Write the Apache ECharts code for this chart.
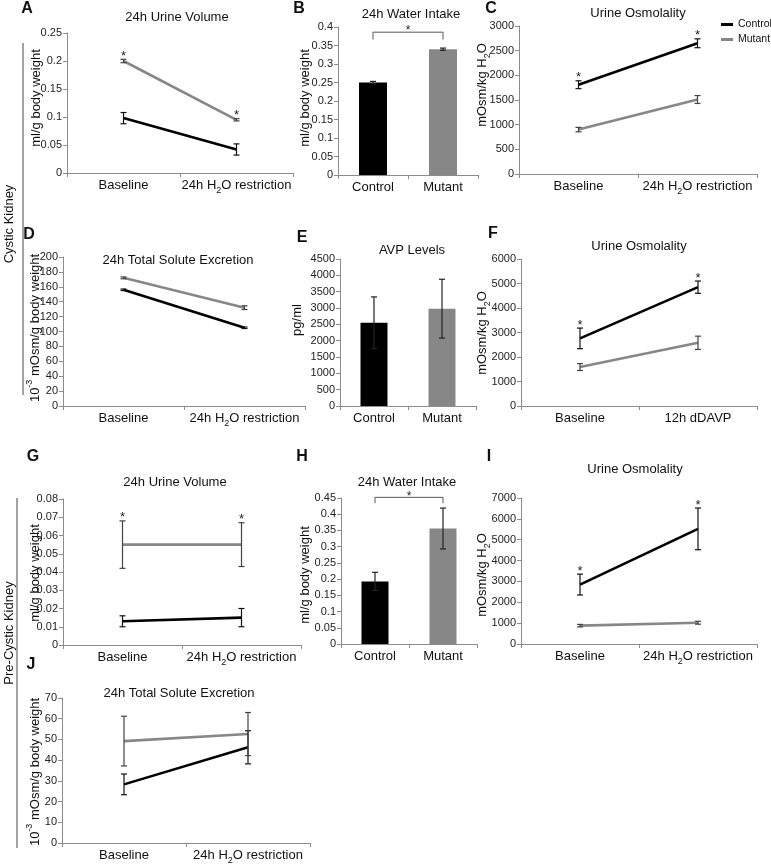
<!DOCTYPE html>
<html><head><meta charset="utf-8">
<script src="https://cdn.jsdelivr.net/npm/echarts@6/dist/echarts.min.js"></script>
<style>html,body{margin:0;padding:0;background:#fff}#c{width:771px;height:865px}</style>
</head><body><div id="c"></div>
<script>
// ---------- categories ----------
const lineCats = ['Baseline', '24h H2O restriction'];
const dDAVPCats = ['Baseline', '12h dDAVP'];
const barCats = ['Control', 'Mutant'];

// ---------- A: 24h Urine Volume (cystic) ----------
const aTicks = [0, 0.05, 0.1, 0.15, 0.2, 0.25];
const aControl = [0.098, 0.042];
const aControlErr = [0.010, 0.010];
const aMutant = [0.200, 0.095];
const aMutantErr = [0.003, 0.002];
const aMutantSig = [1, 1];

// ---------- B: 24h Water Intake (cystic) ----------
const bTicks = [0, 0.05, 0.1, 0.15, 0.2, 0.25, 0.3, 0.35, 0.4];
const bValues = [0.250, 0.340];
const bErr = [0.003, 0.003];
const bBracket = [0.386, 0.366];

// ---------- C: Urine Osmolality (cystic) ----------
const cTicks = [0, 500, 1000, 1500, 2000, 2500, 3000];
const cControl = [1810, 2650];
const cControlErr = [80, 90];
const cControlSig = [1, 1];
const cMutant = [900, 1510];
const cMutantErr = [45, 80];

// ---------- D: 24h Total Solute Excretion (cystic) ----------
const dTicks = [0, 20, 40, 60, 80, 100, 120, 140, 160, 180, 200];
const dControl = [156, 105];
const dControlErr = [1, 1];
const dMutant = [172, 132];
const dMutantErr = [1.2, 2.5];

// ---------- E: AVP Levels ----------
const eTicks = [0, 500, 1000, 1500, 2000, 2500, 3000, 3500, 4000, 4500];
const eValues = [2550, 2980];
const eErr = [790, 900];

// ---------- F: Urine Osmolality (dDAVP) ----------
const fTicks = [0, 1000, 2000, 3000, 4000, 5000, 6000];
const fControl = [2760, 4850];
const fControlErr = [420, 250];
const fControlSig = [1, 1];
const fMutant = [1590, 2580];
const fMutantErr = [140, 270];

// ---------- G: 24h Urine Volume (pre-cystic) ----------
const gTicks = [0, 0.01, 0.02, 0.03, 0.04, 0.05, 0.06, 0.07, 0.08];
const gControl = [0.013, 0.015];
const gControlErr = [0.003, 0.005];
const gMutant = [0.055, 0.055];
const gMutantErr = [0.013, 0.012];
const gMutantSig = [1, 1];

// ---------- H: 24h Water Intake (pre-cystic) ----------
const hTicks = [0, 0.05, 0.1, 0.15, 0.2, 0.25, 0.3, 0.35, 0.4, 0.45];
const hValues = [0.193, 0.356];
const hErr = [0.028, 0.063];
const hBracket = [0.452, 0.434];

// ---------- I: Urine Osmolality (pre-cystic) ----------
const iTicks = [0, 1000, 2000, 3000, 4000, 5000, 6000, 7000];
const iControl = [2850, 5520];
const iControlErr = [500, 1000];
const iControlSig = [1, 1];
const iMutant = [880, 1020];
const iMutantErr = [60, 70];

// ---------- J: 24h Total Solute Excretion (pre-cystic) ----------
const jTicks = [0, 10, 20, 30, 40, 50, 60, 70];
const jControl = [28.3, 46.2];
const jControlErr = [5, 8];
const jMutant = [49.2, 52.6];
const jMutantErr = [12, 10.4];

const none = [0, 0];

// ---------- styling / layout ----------
const FONT = '"Liberation Sans", Arial, Helvetica, sans-serif';
const CTRL = '#000000', MUT = '#878787', ERRC = '#111111', ERRM = '#444444';
const AXIS = '#8c8c8c';

const panels = [
  { grid: {left: 67, top: 33, width: 226, height: 140}, cats: lineCats, ticks: aTicks, kind: 'line',
    c: aControl, ce: aControlErr, cs: none, m: aMutant, me: aMutantErr, ms: aMutantSig },
  { grid: {left: 338, top: 27, width: 140, height: 148}, cats: barCats, ticks: bTicks, kind: 'bar',
    v: bValues, e: bErr, br: bBracket, bw: 28 },
  { grid: {left: 519, top: 26, width: 238, height: 148}, cats: lineCats, ticks: cTicks, kind: 'line',
    c: cControl, ce: cControlErr, cs: cControlSig, m: cMutant, me: cMutantErr, ms: none },
  { grid: {left: 63, top: 257, width: 242, height: 149}, cats: lineCats, ticks: dTicks, kind: 'line',
    c: dControl, ce: dControlErr, cs: none, m: dMutant, me: dMutantErr, ms: none },
  { grid: {left: 340, top: 259, width: 136, height: 147}, cats: barCats, ticks: eTicks, kind: 'bar',
    v: eValues, e: eErr, br: null, bw: 27 },
  { grid: {left: 521, top: 259, width: 236, height: 147}, cats: dDAVPCats, ticks: fTicks, kind: 'line',
    c: fControl, ce: fControlErr, cs: fControlSig, m: fMutant, me: fMutantErr, ms: none },
  { grid: {left: 63, top: 499, width: 238, height: 146}, cats: lineCats, ticks: gTicks, kind: 'line',
    c: gControl, ce: gControlErr, cs: none, m: gMutant, me: gMutantErr, ms: gMutantSig },
  { grid: {left: 341, top: 498, width: 136, height: 146}, cats: barCats, ticks: hTicks, kind: 'bar',
    v: hValues, e: hErr, br: hBracket, bw: 27 },
  { grid: {left: 521, top: 498, width: 236, height: 146}, cats: lineCats, ticks: iTicks, kind: 'line',
    c: iControl, ce: iControlErr, cs: iControlSig, m: iMutant, me: iMutantErr, ms: none },
  { grid: {left: 62, top: 698, width: 248, height: 148}, cats: lineCats, ticks: jTicks, kind: 'line',
    c: jControl, ce: jControlErr, cs: none, m: jMutant, me: jMutantErr, ms: none }
];

function errRender(color) {
  return function (params, api) {
    const x = api.value(0), v = api.value(1), e = api.value(2), s = api.value(3);
    const hi = api.coord([x, v + e]), lo = api.coord([x, v - e]);
    const cap = 3;
    const st = {stroke: color, lineWidth: 1.2};
    const ch = [
      {type: 'line', shape: {x1: hi[0], y1: hi[1], x2: lo[0], y2: lo[1]}, style: st},
      {type: 'line', shape: {x1: hi[0] - cap, y1: hi[1], x2: hi[0] + cap, y2: hi[1]}, style: st},
      {type: 'line', shape: {x1: lo[0] - cap, y1: lo[1], x2: lo[0] + cap, y2: lo[1]}, style: st}
    ];
    if (s) {
      ch.push({type: 'text', x: hi[0], y: hi[1] - 3,
        style: {text: '*', align: 'center', verticalAlign: 'middle', font: '13px ' + FONT, fill: '#222'}});
    }
    return {type: 'group', children: ch};
  };
}

function bracketRender(params, api) {
  const top = api.value(1), leg = api.value(2);
  const p0 = api.coord([0, top]), p1 = api.coord([1, top]);
  const l0 = api.coord([0, leg]), l1 = api.coord([1, leg]);
  const st = {stroke: '#555', lineWidth: 1};
  return {type: 'group', children: [
    {type: 'polyline', shape: {points: [[l0[0], l0[1]], [p0[0], p0[1]], [p1[0], p1[1]], [l1[0], l1[1]]]}, style: Object.assign({fill: null}, st)},
    {type: 'text', x: (p0[0] + p1[0]) / 2, y: p0[1] - 1,
      style: {text: '*', align: 'center', verticalAlign: 'middle', font: '12px ' + FONT, fill: '#222'}}
  ]};
}

const grids = [], xAxes = [], yAxes = [], series = [];
panels.forEach((p, i) => {
  grids.push(Object.assign({containLabel: false}, p.grid));
  xAxes.push({
    type: 'category', gridIndex: i, data: p.cats,
    axisLine: {lineStyle: {color: AXIS, width: 1}},
    axisTick: {show: true, length: 4, lineStyle: {color: AXIS}},
    axisLabel: {
      fontFamily: FONT, fontSize: 13, color: '#111', margin: 2, lineHeight: 20, interval: 0,
      formatter: v => v.replace('H2O', 'H{s|2}O'),
      rich: {s: {fontFamily: FONT, fontSize: 9, color: '#111', verticalAlign: 'bottom'}}
    }
  });
  yAxes.push({
    type: 'value', gridIndex: i,
    min: p.ticks[0], max: p.ticks[p.ticks.length - 1], interval: p.ticks[1] - p.ticks[0],
    splitLine: {show: false},
    axisLine: {show: true, lineStyle: {color: AXIS, width: 1}},
    axisTick: {show: true, length: 4, lineStyle: {color: AXIS}},
    axisLabel: {fontFamily: FONT, fontSize: 11, color: '#222', margin: 5,
      formatter: v => String(+(+v).toFixed(6))}
  });
  if (p.kind === 'line') {
    series.push({type: 'line', name: 'Control', xAxisIndex: i, yAxisIndex: i, data: p.c, symbol: 'none',
      lineStyle: {color: CTRL, width: 2.6}, itemStyle: {color: CTRL}, z: 3, animation: false});
    series.push({type: 'line', name: 'Mutant', xAxisIndex: i, yAxisIndex: i, data: p.m, symbol: 'none',
      lineStyle: {color: MUT, width: 2.6}, itemStyle: {color: MUT}, z: 3, animation: false});
    series.push({type: 'custom', xAxisIndex: i, yAxisIndex: i, renderItem: errRender(ERRC), z: 5,
      data: p.c.map((v, k) => [k, v, p.ce[k], p.cs[k]]), animation: false, silent: true});
    series.push({type: 'custom', xAxisIndex: i, yAxisIndex: i, renderItem: errRender(ERRM), z: 5,
      data: p.m.map((v, k) => [k, v, p.me[k], p.ms[k]]), animation: false, silent: true});
  } else {
    series.push({type: 'bar', xAxisIndex: i, yAxisIndex: i, barWidth: p.bw, animation: false,
      data: p.v.map((v, k) => ({value: v, itemStyle: {color: k === 0 ? CTRL : MUT}}))});
    series.push({type: 'custom', xAxisIndex: i, yAxisIndex: i, renderItem: errRender('#222'), z: 5,
      data: p.v.map((v, k) => [k, v, p.e[k], 0]), animation: false, silent: true});
    if (p.br) {
      series.push({type: 'custom', xAxisIndex: i, yAxisIndex: i, renderItem: bracketRender, z: 5,
        clip: false, data: [[0, p.br[0], p.br[1]]], animation: false, silent: true});
    }
  }
});

function txt(x, y, text, size, opts) {
  opts = opts || {};
  return {type: 'text', x: x, y: y, rotation: opts.rot || 0, silent: true,
    style: {text: text, align: 'center', verticalAlign: 'middle',
      font: (opts.bold ? 'bold ' : '') + size + 'px ' + FONT, fill: opts.fill || '#111',
      rich: opts.rich}};
}
const R90 = Math.PI / 2;
const subRich = {
  b: {fontFamily: FONT, fontSize: 13, lineHeight: 20, fill: '#111'},
  s: {fontFamily: FONT, fontSize: 9, fill: '#111', verticalAlign: 'bottom'},
  u: {fontFamily: FONT, fontSize: 9, fill: '#111', verticalAlign: 'top'}
};
const graphics = [
  // panel letters
  txt(27, 9, 'A', 16, {bold: true}), txt(299, 9, 'B', 16, {bold: true}), txt(491, 9, 'C', 16, {bold: true}),
  txt(29, 235, 'D', 16, {bold: true}), txt(302, 238, 'E', 16, {bold: true}), txt(493, 234, 'F', 16, {bold: true}),
  txt(33, 457, 'G', 16, {bold: true}), txt(302, 457, 'H', 16, {bold: true}), txt(489, 457, 'I', 16, {bold: true}),
  txt(31, 665, 'J', 16, {bold: true}),
  // titles
  txt(177, 17, '24h Urine Volume', 13), txt(411, 14, '24h Water Intake', 13), txt(638, 13, 'Urine Osmolality', 13),
  txt(178, 260, '24h Total Solute Excretion', 13), txt(412, 250, 'AVP Levels', 13), txt(639, 246, 'Urine Osmolality', 13),
  txt(175, 482, '24h Urine Volume', 13), txt(407, 482, '24h Water Intake', 13), txt(635, 469, 'Urine Osmolality', 13),
  txt(179, 693, '24h Total Solute Excretion', 13),
  // y-axis titles
  txt(36, 98, 'ml/g body weight', 13, {rot: R90}),
  txt(305, 98, 'ml/g body weight', 13, {rot: R90}),
  txt(482, 85, '{b|mOsm/kg H}{s|2}{b|O}', 13, {rot: R90, rich: subRich}),
  txt(35, 328, '{b|10}{u|-3}{b| mOsm/g body weight}', 13, {rot: R90, rich: subRich}),
  txt(297, 320, 'pg/ml', 13, {rot: R90}),
  txt(482, 333, '{b|mOsm/kg H}{s|2}{b|O}', 13, {rot: R90, rich: subRich}),
  txt(35, 573, 'ml/g body weight', 13, {rot: R90}),
  txt(305, 575, 'ml/g body weight', 13, {rot: R90}),
  txt(482, 575, '{b|mOsm/kg H}{s|2}{b|O}', 13, {rot: R90, rich: subRich}),
  txt(35, 772, '{b|10}{u|-3}{b| mOsm/g body weight}', 13, {rot: R90, rich: subRich}),
  // side group labels
  txt(9, 224, 'Cystic Kidney', 13, {rot: R90}),
  txt(9, 633, 'Pre-Cystic Kidney', 13, {rot: R90}),
  {type: 'line', silent: true, shape: {x1: 23, y1: 43, x2: 23, y2: 395}, style: {stroke: '#666', lineWidth: 1.2}},
  {type: 'line', silent: true, shape: {x1: 17, y1: 498, x2: 17, y2: 848}, style: {stroke: '#666', lineWidth: 1.2}}
];

const option = {
  backgroundColor: '#ffffff',
  animation: false,
  textStyle: {fontFamily: FONT},
  grid: grids, xAxis: xAxes, yAxis: yAxes, series: series,
  legend: {data: ['Control', 'Mutant'], left: 721, top: 19, padding: 0, orient: 'vertical', icon: 'rect',
    itemWidth: 12, itemHeight: 3, itemGap: 4, selectedMode: false,
    textStyle: {fontFamily: FONT, fontSize: 10.5, color: '#111'}},
  graphic: graphics
};
const chart = echarts.init(document.getElementById('c'));
chart.setOption(option);
</script>
</body></html>
